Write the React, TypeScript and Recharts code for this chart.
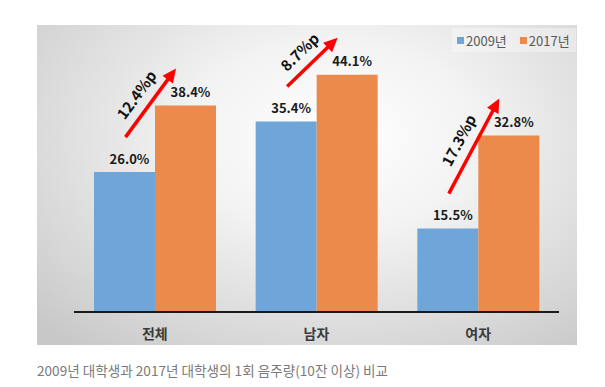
import React from 'react';
import { BarChart, Bar, XAxis, YAxis, Legend, LabelList } from 'recharts';

// 1회 음주량 10잔 이상 비율 (%)
const categories = ['전체', '남자', '여자'];
const rate2009 = [26.0, 35.4, 15.5];
const rate2017 = [38.4, 44.1, 32.8];
const increase = ['12.4%p', '8.7%p', '17.3%p'];
const seriesNames = ['2009년', '2017년'];

const BLUE = '#6ea6da';
const ORANGE = '#eb8a4b';
const FONT = "'Noto Sans CJK KR', 'Noto Sans', sans-serif";

const data = categories.map((name, i) => ({
  name,
  y2009: rate2009[i],
  y2017: rate2017[i]
}));

// viewBox 또는 x/y 직접 전달 둘 다 대응
const box = (props: any) => {
  const vb = props.viewBox || {};
  return {
    x: props.x ?? vb.x,
    y: props.y ?? vb.y,
    width: props.width ?? vb.width,
    height: props.height ?? vb.height
  };
};

const ValueLabel = (props: any) => {
  const { x, y, width } = box(props);
  return (
    <text
      x={x + width / 2 + 5}
      y={y - 14}
      textAnchor="middle"
      dominantBaseline="central"
      fontFamily={FONT}
      fontWeight={700}
      fontSize={13}
      fill="#1a1a1a"
    >
      {`${Number(props.value).toFixed(1)}%`}
    </text>
  );
};

// 2009 -> 2017 증가 화살표 (주황 막대 기준으로 파랑 막대 위치 계산)
const ChangeArrow = (props: any) => {
  const { x, y, width, height } = box(props);
  const i = props.index ?? 0;
  const base = y + height;
  const blueTop = base - height * (rate2009[i] / rate2017[i]);
  const x1 = x - width / 2 + 1;
  const y1 = blueTop - 35;
  const x2 = x + 21;
  const y2 = y - 37;
  const ang = Math.atan2(y2 - y1, x2 - x1);
  const ux = Math.cos(ang);
  const uy = Math.sin(ang);
  const head = 14;
  const half = 6.5;
  const bx = x2 - ux * head;
  const by = y2 - uy * head;
  const off = 17;
  const mx = (x1 + x2) / 2 + uy * off - ux * 2;
  const my = (y1 + y2) / 2 - ux * off - uy * 2;
  return (
    <g>
      <line x1={x1} y1={y1} x2={bx + ux} y2={by + uy} stroke="#ff0000" strokeWidth={3.5} />
      <polygon
        points={`${x2},${y2} ${bx - uy * half},${by + ux * half} ${bx + uy * half},${by - ux * half}`}
        fill="#ff0000"
      />
      <text
        x={mx}
        y={my}
        transform={`rotate(${(ang * 180) / Math.PI}, ${mx}, ${my})`}
        textAnchor="middle"
        dominantBaseline="central"
        fontFamily={FONT}
        fontWeight={700}
        fontSize={15}
        fill="#111"
      >
        {increase[i]}
      </text>
    </g>
  );
};

const CategoryTick = ({ x, y, payload }: any) => (
  <text
    x={x}
    y={y + 21}
    textAnchor="middle"
    dominantBaseline="central"
    fontFamily={FONT}
    fontWeight={700}
    fontSize={14}
    fill="#3a3a3a"
  >
    {payload.value}
  </text>
);

const LegendBox = () => (
  <div
    style={{
      display: 'flex',
      alignItems: 'center',
      fontFamily: FONT,
      fontSize: 13,
      color: '#595959',
      background: 'rgba(255,255,255,0.35)',
      height: 24,
      paddingLeft: 5
    }}
  >
    {seriesNames.map((s, i) => (
      <span key={s} style={{ display: 'flex', alignItems: 'center', marginRight: i === 0 ? 13 : 0 }}>
        <span
          style={{
            width: 7,
            height: 7,
            background: i === 0 ? BLUE : ORANGE,
            display: 'inline-block',
            marginRight: 2
          }}
        />
        {s}
      </span>
    ))}
  </div>
);

export default function App() {
  return (
    <div style={{ position: 'absolute', left: 0, top: 0, width: 605, height: 387, background: '#fff' }}>
      <div
        style={{
          position: 'absolute',
          left: 37,
          top: 25,
          width: 540,
          height: 320,
          background:
            'radial-gradient(ellipse 75% 85% at 55% 35%, #ffffff 0%, #f3f3f3 35%, #d6d6d6 80%, #c8c8c8 100%)'
        }}
      />
      <div style={{ position: 'absolute', left: 0, top: 0 }}>
        <BarChart
          width={605}
          height={387}
          data={data}
          margin={{ top: 43, right: 46, bottom: 45, left: 74 }}
          barSize={61}
          barGap={0}
        >
          <YAxis hide width={0} domain={[0, 50]} />
          <XAxis
            dataKey="name"
            height={30}
            tickLine={false}
            tickSize={0}
            tickMargin={0}
            axisLine={{ stroke: '#1a1a1a', strokeWidth: 2 }}
            tick={<CategoryTick />}
          />
          <Legend
            layout="vertical"
            align="center"
            verticalAlign="middle"
            wrapperStyle={{ top: 28, left: 452, width: 124 }}
            content={<LegendBox />}
          />
          <Bar dataKey="y2009" name={seriesNames[0]} fill={BLUE} isAnimationActive={false}>
            <LabelList dataKey="y2009" content={ValueLabel} />
          </Bar>
          <Bar dataKey="y2017" name={seriesNames[1]} fill={ORANGE} isAnimationActive={false}>
            <LabelList dataKey="y2017" content={ValueLabel} />
            <LabelList dataKey="y2017" content={ChangeArrow} />
          </Bar>
        </BarChart>
      </div>
      <div
        style={{
          position: 'absolute',
          left: 37,
          top: 361,
          fontFamily: FONT,
          fontSize: 13.6,
          lineHeight: '18px',
          color: '#7a7a7a',
          whiteSpace: 'nowrap'
        }}
      >
        2009년 대학생과 2017년 대학생의 1회 음주량(10잔 이상) 비교
      </div>
    </div>
  );
}
